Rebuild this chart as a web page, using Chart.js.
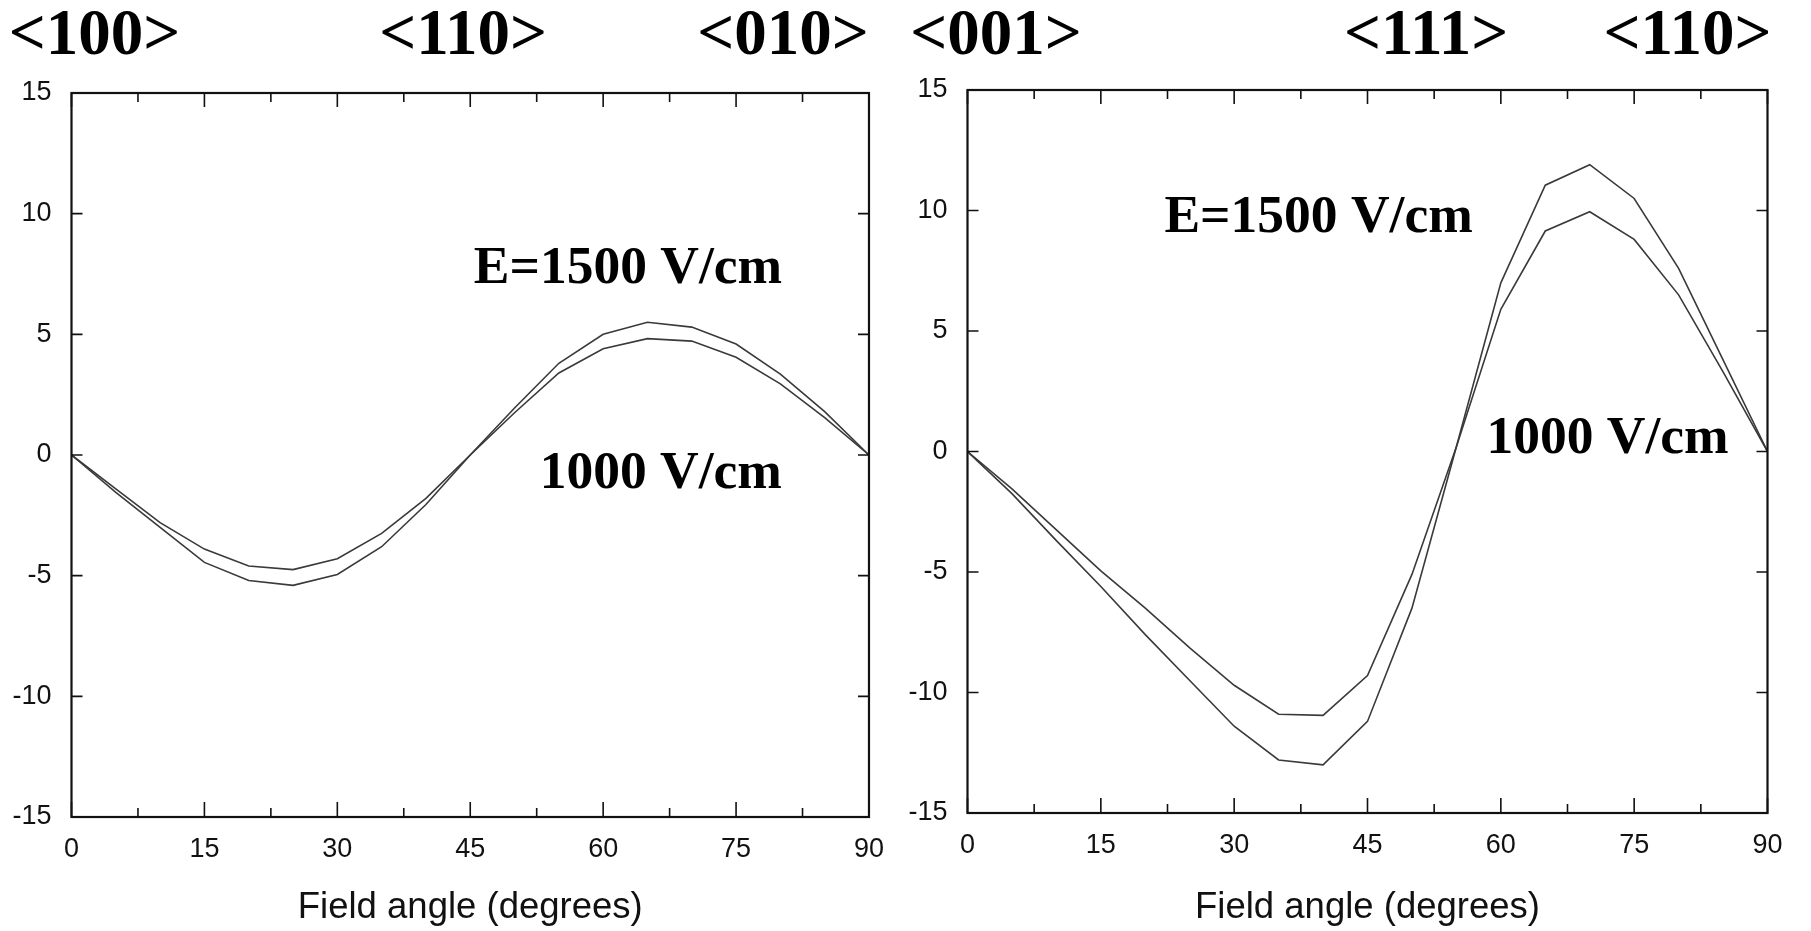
<!DOCTYPE html>
<html>
<head>
<meta charset="utf-8">
<script src="https://cdn.jsdelivr.net/npm/chart.js@4.4.1/dist/chart.umd.min.js"></script>
<style>
  html, body { margin: 0; padding: 0; background: #fff; }
  #wrap { position: relative; width: 1811px; height: 931px; overflow: hidden; }
  canvas { position: absolute; top: 0; }
  #left_chart { left: 0; }
  #right_chart { left: 890px; }
</style>
</head>
<body>
<div id="wrap">
  <canvas id="left_chart" width="900" height="931"></canvas>
  <canvas id="right_chart" width="921" height="931"></canvas>
</div>
<script>
// Field angle (degrees), shared by both panels
const angles = [0, 5, 10, 15, 20, 25, 30, 35, 40, 45, 50, 55, 60, 65, 70, 75, 80, 85, 90];

// Left panel: <100> -> <110> -> <010>
const left_1500 = [0, -1.55, -3.0, -4.45, -5.2, -5.4, -4.95, -3.8, -2.05, 0, 1.95, 3.8, 5.0, 5.5, 5.3, 4.6, 3.35, 1.8, 0];
const left_1000 = [0, -1.4, -2.8, -3.9, -4.6, -4.75, -4.3, -3.25, -1.8, 0, 1.75, 3.4, 4.4, 4.82, 4.72, 4.05, 2.95, 1.55, 0];

// Right panel: <001> -> <111> -> <110>
const right_1500 = [0, -1.75, -3.7, -5.6, -7.6, -9.5, -11.4, -12.8, -13.0, -11.2, -6.5, 0.2, 7.0, 11.05, 11.9, 10.5, 7.6, 3.8, 0];
const right_1000 = [0, -1.55, -3.25, -4.95, -6.5, -8.15, -9.7, -10.9, -10.95, -9.3, -5.1, 0.2, 5.9, 9.15, 9.95, 8.8, 6.5, 3.3, 0];

const left_directions = ['<100>', '<110>', '<010>'];
const right_directions = ['<001>', '<111>', '<110>'];
const field_labels = ['E=1500 V/cm', '1000 V/cm'];
const x_title = 'Field angle (degrees)';

// layout of each panel (pixels and anchor positions, kept apart from the data)
const left_layout = {
  yWidth: 71.5, padRight: 26.5, padTop: 93, xHeight: 114,
  dirX: [2.6, 44.2, 80.3], dirY: 37,
  labelPos: [[62.8, 7.7], [66.5, -0.8]],
};
const right_layout = {
  yWidth: 77.5, padRight: 43.5, padTop: 90, xHeight: 118,
  dirX: [3.2, 51.6, 81.0], dirY: 37,
  labelPos: [[39.5, 9.7], [72.0, 0.5]],
};

// inward ticks on all four sides + box frame
const frame_plugin = {
  id: 'frame',
  afterDraw(chart) {
    const { ctx, chartArea: a } = chart;
    const x = chart.scales.x, y = chart.scales.y;
    ctx.save();
    ctx.strokeStyle = '#111';
    ctx.lineWidth = 1.6;
    ctx.beginPath();
    x.ticks.forEach((t, i) => {
      const px = x.getPixelForValue(t.value);
      ctx.moveTo(px, a.bottom); ctx.lineTo(px, a.bottom - 15);
      ctx.moveTo(px, a.top); ctx.lineTo(px, a.top + 14);
      if (i < x.ticks.length - 1) {
        const mx = x.getPixelForValue((t.value + x.ticks[i + 1].value) / 2);
        ctx.moveTo(mx, a.bottom); ctx.lineTo(mx, a.bottom - 9);
        ctx.moveTo(mx, a.top); ctx.lineTo(mx, a.top + 9);
      }
    });
    y.ticks.forEach(t => {
      const py = y.getPixelForValue(t.value);
      ctx.moveTo(a.left, py); ctx.lineTo(a.left + 11, py);
      ctx.moveTo(a.right, py); ctx.lineTo(a.right - 11, py);
    });
    ctx.stroke();
    ctx.lineWidth = 2.2;
    ctx.strokeRect(a.left, a.top, a.right - a.left, a.bottom - a.top);
    ctx.restore();
  }
};

// crystal directions above the plot and the field labels inside it
const text_plugin = {
  id: 'texts',
  afterDraw(chart, args, opts) {
    const { ctx } = chart;
    const x = chart.scales.x, y = chart.scales.y;
    ctx.save();
    ctx.fillStyle = '#000';
    ctx.textAlign = 'center';
    ctx.textBaseline = 'middle';
    ctx.font = 'bold 65px "Liberation Serif", "Times New Roman", serif';
    opts.directions.forEach((d, i) => {
      ctx.fillText(d, x.getPixelForValue(opts.layout.dirX[i]), opts.layout.dirY);
    });
    ctx.font = 'bold 53.5px "Liberation Serif", "Times New Roman", serif';
    field_labels.forEach((s, i) => {
      const p = opts.layout.labelPos[i];
      ctx.fillText(s, x.getPixelForValue(p[0]), y.getPixelForValue(p[1]));
    });
    ctx.restore();
  }
};

function field_chart(canvas_id, series_1500, series_1000, directions, layout) {
  const line = (label, values) => ({
    label: label,
    data: angles.map((a, i) => ({ x: a, y: values[i] })),
    borderColor: '#3a3a3a',
    borderWidth: 1.6,
    pointRadius: 0,
    tension: 0,
    fill: false,
  });

  const config = {
    type: 'line',
    data: {
      datasets: [line('E=1500 V/cm', series_1500), line('1000 V/cm', series_1000)],
    },
    options: {
      responsive: false,
      animation: false,
      layout: { padding: { left: 0, right: layout.padRight, top: layout.padTop, bottom: 0 } },
      plugins: {
        legend: { display: false },
        tooltip: { enabled: false },
        texts: { directions: directions, layout: layout },
      },
      scales: {
        x: {
          type: 'linear',
          min: 0,
          max: 90,
          grid: { display: false, drawTicks: false },
          border: { display: false },
          ticks: {
            stepSize: 15,
            padding: 16,
            color: '#111',
            font: { family: '"Liberation Sans", Arial, sans-serif', size: 27 },
          },
          title: {
            display: true,
            text: x_title,
            color: '#111',
            padding: { top: 0, bottom: 1 },
            font: { family: '"Liberation Sans", Arial, sans-serif', size: 36.5 },
          },
          afterFit: (scale) => { scale.height = layout.xHeight; },
        },
        y: {
          min: -15,
          max: 15,
          grid: { display: false, drawTicks: false },
          border: { display: false },
          ticks: {
            stepSize: 5,
            padding: 20,
            color: '#111',
            font: { family: '"Liberation Sans", Arial, sans-serif', size: 27 },
          },
          afterFit: (scale) => { scale.width = layout.yWidth; },
        },
      },
    },
    plugins: [frame_plugin, text_plugin],
  };

  const ctx = document.getElementById(canvas_id).getContext('2d');
  new Chart(ctx, config);
}

field_chart('left_chart', left_1500, left_1000, left_directions, left_layout);
field_chart('right_chart', right_1500, right_1000, right_directions, right_layout);
</script>
</body>
</html>
